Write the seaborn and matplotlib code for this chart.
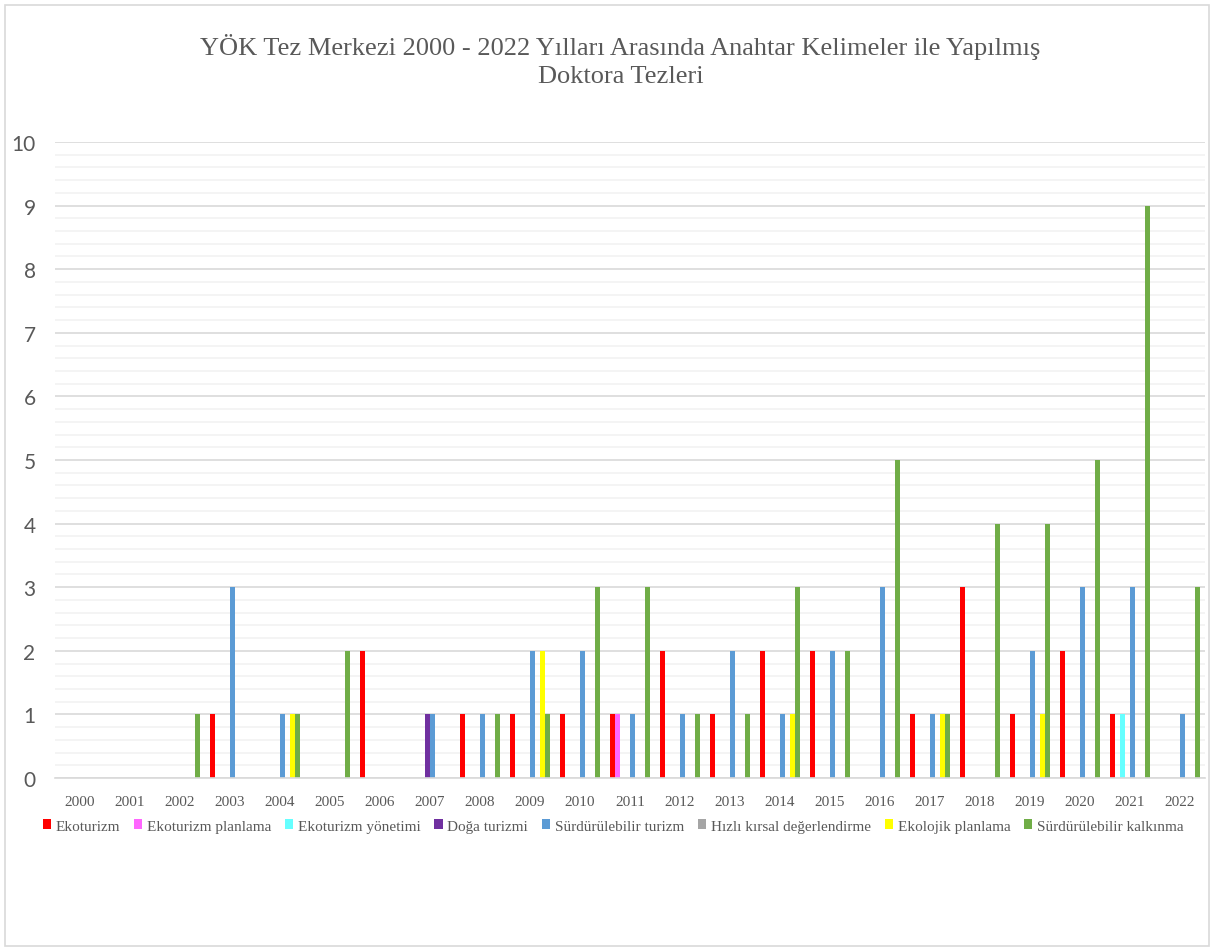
import seaborn as sns
import pandas as pd
import numpy as np
import matplotlib.pyplot as plt
from matplotlib.ticker import MultipleLocator
from matplotlib.patches import Rectangle

years = [str(y) for y in range(2000, 2023)]

series_names = ["Ekoturizm", "Ekoturizm planlama", "Ekoturizm yönetimi", "Doğa turizmi",
                "Sürdürülebilir turizm", "Hızlı kırsal değerlendirme", "Ekolojik planlama",
                "Sürdürülebilir kalkınma"]
colors = ["#FF0000", "#FF66FF", "#66FFFF", "#7030A0", "#5B9BD5", "#A5A5A5", "#FFFF00", "#70AD47"]

#                   00 01 02 03 04 05 06 07 08 09 10 11 12 13 14 15 16 17 18 19 20 21 22
ekoturizm        = [0, 0, 0, 1, 0, 0, 2, 0, 1, 1, 1, 1, 2, 1, 2, 2, 0, 1, 3, 1, 2, 1, 0]
eko_planlama     = [0, 0, 0, 0, 0, 0, 0, 0, 0, 0, 0, 1, 0, 0, 0, 0, 0, 0, 0, 0, 0, 0, 0]
eko_yonetimi     = [0, 0, 0, 0, 0, 0, 0, 0, 0, 0, 0, 0, 0, 0, 0, 0, 0, 0, 0, 0, 0, 1, 0]
doga_turizmi     = [0, 0, 0, 0, 0, 0, 0, 1, 0, 0, 0, 0, 0, 0, 0, 0, 0, 0, 0, 0, 0, 0, 0]
surd_turizm      = [0, 0, 0, 3, 1, 0, 0, 1, 1, 2, 2, 1, 1, 2, 1, 2, 3, 1, 0, 2, 3, 3, 1]
hizli_kirsal     = [0, 0, 0, 0, 0, 0, 0, 0, 0, 0, 0, 0, 0, 0, 0, 0, 0, 0, 0, 0, 0, 0, 0]
ekolojik_plan    = [0, 0, 0, 0, 1, 0, 0, 0, 0, 2, 0, 0, 0, 0, 1, 0, 0, 1, 0, 1, 0, 0, 0]
surd_kalkinma    = [0, 0, 1, 0, 1, 2, 0, 0, 1, 1, 3, 3, 1, 1, 3, 2, 5, 1, 4, 4, 5, 9, 3]

values = [ekoturizm, eko_planlama, eko_yonetimi, doga_turizmi,
          surd_turizm, hizli_kirsal, ekolojik_plan, surd_kalkinma]

rows = []
for name, vals in zip(series_names, values):
    for y, v in zip(years, vals):
        rows.append({"Yıl": y, "Anahtar": name, "Sayı": v})
df = pd.DataFrame(rows)

sns.set_style("white")
plt.rcParams['font.family'] = ['Liberation Serif', 'DejaVu Serif']

fig = plt.figure(figsize=(12.14, 9.53), dpi=100)
ax = fig.add_axes([55 / 1214, 1 - 779 / 953, 1150 / 1214, 636 / 953])

sns.barplot(data=df, x="Yıl", y="Sayı", hue="Anahtar", hue_order=series_names,
            palette=colors, width=0.8, saturation=1, ax=ax, linewidth=0)

ax.set_ylim(0, 10)
ax.set_xlim(-0.5, len(years) - 0.5)
ax.yaxis.set_major_locator(MultipleLocator(1))
ax.yaxis.set_minor_locator(MultipleLocator(0.2))
ax.grid(which="major", axis="y", color="#D9D9D9", linewidth=1.2)
ax.grid(which="minor", axis="y", color="#F2F2F2", linewidth=1.2)
ax.grid(axis="x", visible=False)
ax.set_axisbelow(True)
for s in ["top", "right", "left"]:
    ax.spines[s].set_visible(False)
ax.spines["bottom"].set_color("#D9D9D9")
ax.spines["bottom"].set_linewidth(1.2)

ax.tick_params(which="both", length=0)
ax.tick_params(axis="x", pad=12, labelsize=11, labelcolor="#595959")
ax.tick_params(axis="y", pad=14, labelsize=15, labelcolor="#595959")
for lab in ax.get_yticklabels():
    lab.set_family(["Lato", "DejaVu Sans"])
ax.set_xlabel("")
ax.set_ylabel("")

handles, labels = ax.get_legend_handles_labels()
ax.legend_.remove()
fig.legend(handles, labels, loc="center", bbox_to_anchor=(0.505, 1 - 827 / 953), ncol=8,
           frameon=False, fontsize=11, labelcolor="#595959", handlelength=0.55,
           handleheight=0.55, handletextpad=0.3, columnspacing=0.9)

fig.text(0.511, 1 - 61 / 953,
         "YÖK Tez Merkezi 2000 - 2022 Yılları Arasında Anahtar Kelimeler ile Yapılmış\nDoktora Tezleri",
         ha="center", va="center", fontsize=19, color="#595959", linespacing=1.4)

fig.patches.append(Rectangle((5 / 1214, 6 / 953), 1204 / 1214, 941 / 953,
                             transform=fig.transFigure, fill=False,
                             edgecolor="#D9D9D9", linewidth=1.2))

fig.savefig("out.png", dpi=100)
